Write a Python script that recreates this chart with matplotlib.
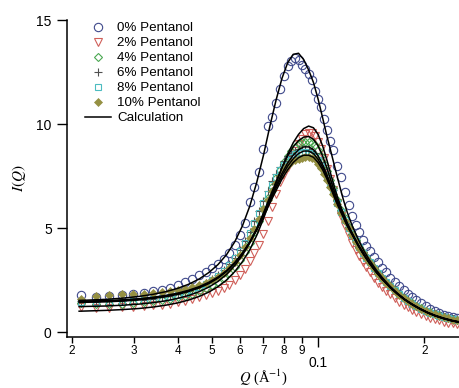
import numpy as np
import matplotlib
matplotlib.use('Agg')
import matplotlib.pyplot as plt
from matplotlib.lines import Line2D

plt.rcParams['font.family'] = ['Liberation Sans', 'DejaVu Sans']
plt.rcParams['mathtext.fontset'] = 'stix'

# --- measured points (shared Q grid) ---
q_data = [0.0212, 0.0234, 0.0255, 0.0277, 0.0298, 0.032, 0.034, 0.036, 0.038, 0.040,
          0.042, 0.044, 0.046, 0.048, 0.050, 0.052, 0.054, 0.056, 0.058, 0.060,
          0.062, 0.064, 0.066, 0.068, 0.070, 0.072, 0.074, 0.076, 0.078, 0.080,
          0.082, 0.084, 0.086, 0.088, 0.090, 0.092, 0.094, 0.096, 0.098, 0.100,
          0.102, 0.104, 0.106, 0.108, 0.110, 0.113, 0.116, 0.119, 0.122, 0.125,
          0.128, 0.131, 0.134, 0.137, 0.140, 0.144, 0.148, 0.152, 0.156, 0.160,
          0.165, 0.170, 0.175, 0.180, 0.185, 0.190, 0.196, 0.202, 0.208, 0.214,
          0.220, 0.227, 0.234, 0.241, 0.248]

i_p0 = [1.78, 1.70, 1.72, 1.76, 1.82, 1.88, 1.95, 2.03, 2.12, 2.25,
        2.40, 2.57, 2.74, 2.90, 3.08, 3.28, 3.50, 3.80, 4.20, 4.65,
        5.25, 6.25, 6.95, 7.70, 8.80, 9.90, 10.35, 11.0, 11.7, 12.3,
        12.8, 13.05, 13.15, 13.1, 12.85, 12.65, 12.4, 12.1, 11.6, 11.2,
        10.8, 10.25, 9.7, 9.2, 8.75, 8.0, 7.45, 6.75, 6.1, 5.6,
        5.15, 4.8, 4.4, 4.15, 3.9, 3.6, 3.35, 3.1, 2.88, 2.62,
        2.40, 2.2, 2.0, 1.83, 1.67, 1.52, 1.38, 1.24, 1.12, 1.01,
        0.92, 0.83, 0.76, 0.71, 0.68]
i_p2 = [1.18, 1.15, 1.17, 1.20, 1.22, 1.25, 1.28, 1.32, 1.37, 1.43,
        1.50, 1.58, 1.67, 1.76, 1.86, 1.98, 2.12, 2.28, 2.50, 2.74,
        3.05, 3.4, 3.78, 4.2, 4.7, 5.35, 6.0, 6.65, 7.2, 7.6,
        7.95, 8.3, 8.7, 9.05, 9.3, 9.5, 9.57, 9.55, 9.4, 9.15,
        8.8, 8.35, 7.85, 7.35, 6.85, 6.2, 5.6, 5.1, 4.65, 4.3,
        3.95, 3.65, 3.38, 3.13, 2.9, 2.62, 2.38, 2.17, 1.98, 1.81,
        1.62, 1.46, 1.31, 1.18, 1.06, 0.96, 0.86, 0.77, 0.69, 0.62,
        0.56, 0.50, 0.45, 0.41, 0.38]
i_p4 = [1.38, 1.33, 1.34, 1.36, 1.39, 1.43, 1.47, 1.52, 1.58, 1.66,
        1.75, 1.85, 1.97, 2.10, 2.25, 2.42, 2.62, 2.85, 3.12, 3.45,
        3.85, 4.3, 4.8, 5.35, 5.9, 6.45, 6.95, 7.4, 7.8, 8.15,
        8.45, 8.7, 8.9, 9.05, 9.12, 9.15, 9.12, 9.08, 9.0, 8.75,
        8.45, 8.1, 7.72, 7.3, 6.9, 6.35, 5.88, 5.46, 5.06, 4.72,
        4.4, 4.1, 3.84, 3.59, 3.36, 3.09, 2.83, 2.61, 2.41, 2.21,
        2.01, 1.82, 1.65, 1.51, 1.38, 1.27, 1.14, 1.03, 0.94, 0.86,
        0.8, 0.73, 0.67, 0.62, 0.58]
i_p6 = [1.5, 1.46, 1.47, 1.49, 1.52, 1.56, 1.61, 1.67, 1.74, 1.83,
        1.93, 2.05, 2.19, 2.35, 2.53, 2.74, 2.98, 3.26, 3.58, 3.95,
        4.37, 4.83, 5.32, 5.82, 6.32, 6.8, 7.24, 7.62, 7.95, 8.22,
        8.44, 8.6, 8.72, 8.8, 8.82, 8.82, 8.78, 8.7, 8.6, 8.4,
        8.15, 7.86, 7.53, 7.18, 6.82, 6.3, 5.84, 5.43, 5.04, 4.7,
        4.38, 4.09, 3.83, 3.58, 3.35, 3.08, 2.82, 2.6, 2.4, 2.2,
        2.0, 1.81, 1.64, 1.5, 1.37, 1.26, 1.13, 1.02, 0.93, 0.85,
        0.79, 0.72, 0.66, 0.61, 0.57]
i_p8 = [1.45, 1.42, 1.43, 1.45, 1.48, 1.52, 1.57, 1.63, 1.70, 1.79,
        1.89, 2.01, 2.15, 2.31, 2.49, 2.70, 2.94, 3.22, 3.54, 3.9,
        4.3, 4.75, 5.22, 5.7, 6.18, 6.65, 7.08, 7.45, 7.78, 8.05,
        8.27, 8.43, 8.55, 8.62, 8.65, 8.63, 8.6, 8.52, 8.42, 8.25,
        8.0, 7.72, 7.4, 7.06, 6.72, 6.22, 5.78, 5.38, 5.0, 4.68,
        4.37, 4.08, 3.82, 3.58, 3.35, 3.08, 2.82, 2.6, 2.4, 2.2,
        2.0, 1.81, 1.64, 1.5, 1.37, 1.26, 1.13, 1.02, 0.93, 0.85,
        0.79, 0.72, 0.66, 0.61, 0.57]
i_p10 = [1.6, 1.72, 1.8, 1.82, 1.83, 1.84, 1.86, 1.9, 1.95, 2.0,
         2.07, 2.15, 2.25, 2.37, 2.5, 2.66, 2.85, 3.08, 3.36, 3.7,
         4.08, 4.5, 4.95, 5.42, 5.9, 6.36, 6.8, 7.18, 7.52, 7.8,
         8.02, 8.18, 8.28, 8.34, 8.37, 8.4, 8.4, 8.36, 8.3, 8.1,
         7.88, 7.6, 7.3, 6.98, 6.64, 6.16, 5.74, 5.35, 4.98, 4.66,
         4.35, 4.06, 3.8, 3.56, 3.33, 3.06, 2.8, 2.58, 2.38, 2.19,
         1.99, 1.8, 1.63, 1.5, 1.37, 1.26, 1.13, 1.02, 0.93, 0.85,
         0.79, 0.71, 0.65, 0.6, 0.56]

# --- calculated curves ---
q_calc = [0.021, 0.022, 0.025, 0.028, 0.031, 0.034, 0.037, 0.040, 0.043, 0.046,
          0.049, 0.052, 0.055, 0.058, 0.061, 0.064, 0.067, 0.070, 0.073, 0.076,
          0.079, 0.082, 0.085, 0.088, 0.091, 0.094, 0.097, 0.100, 0.103, 0.106,
          0.109, 0.112, 0.115, 0.118, 0.121, 0.125, 0.130, 0.135, 0.140, 0.146,
          0.152, 0.160, 0.168, 0.176, 0.185, 0.195, 0.205, 0.215, 0.227, 0.240,
          0.250]
c_p0 = [1.52, 1.53, 1.57, 1.63, 1.71, 1.81, 1.94, 2.10, 2.30, 2.55,
        2.86, 3.24, 3.72, 4.33, 5.10, 6.05, 7.2, 8.5, 9.9, 11.15,
        12.2, 12.95, 13.35, 13.4, 13.1, 12.6, 12.0, 11.2, 10.3, 9.4,
        8.6, 7.8, 7.05, 6.35, 5.75, 5.1, 4.45, 3.9, 3.45, 3.0,
        2.62, 2.2, 1.86, 1.58, 1.34, 1.12, 0.94, 0.80, 0.67, 0.56,
        0.50]
c_p2 = [1.00, 1.01, 1.04, 1.08, 1.13, 1.20, 1.29, 1.40, 1.54, 1.71,
        1.92, 2.18, 2.5, 2.9, 3.38, 3.95, 4.65, 5.45, 6.3, 7.15,
        7.9, 8.55, 9.1, 9.5, 9.78, 9.9, 9.82, 9.5, 8.95, 8.25,
        7.5, 6.8, 6.2, 5.7, 5.25, 4.75, 4.2, 3.75, 3.32, 2.9,
        2.55, 2.15, 1.83, 1.56, 1.32, 1.10, 0.92, 0.78, 0.65, 0.54,
        0.48]
c_p4 = [1.22, 1.23, 1.25, 1.29, 1.34, 1.41, 1.50, 1.62, 1.76, 1.94,
        2.16, 2.43, 2.77, 3.19, 3.69, 4.28, 4.96, 5.72, 6.5, 7.23,
        7.9, 8.47, 8.9, 9.2, 9.37, 9.4, 9.27, 8.95, 8.47, 7.87,
        7.22, 6.6, 6.05, 5.6, 5.17, 4.72, 4.18, 3.72, 3.3, 2.9,
        2.55, 2.15, 1.83, 1.56, 1.32, 1.10, 0.92, 0.78, 0.65, 0.54,
        0.48]
c_p6 = [1.42, 1.43, 1.45, 1.49, 1.54, 1.61, 1.70, 1.81, 1.95, 2.12,
        2.33, 2.59, 2.91, 3.3, 3.77, 4.33, 4.97, 5.67, 6.38, 7.03,
        7.63, 8.13, 8.5, 8.76, 8.9, 8.9, 8.77, 8.47, 8.05, 7.55,
        7.0, 6.47, 5.99, 5.56, 5.14, 4.7, 4.16, 3.7, 3.3, 2.9,
        2.55, 2.15, 1.83, 1.56, 1.32, 1.10, 0.92, 0.78, 0.65, 0.54,
        0.48]
c_p8 = [1.45, 1.46, 1.48, 1.52, 1.57, 1.64, 1.73, 1.84, 1.98, 2.15,
        2.36, 2.62, 2.93, 3.32, 3.78, 4.32, 4.94, 5.62, 6.3, 6.92,
        7.5, 7.98, 8.33, 8.58, 8.7, 8.7, 8.58, 8.3, 7.92, 7.45,
        6.93, 6.42, 5.95, 5.53, 5.12, 4.68, 4.15, 3.7, 3.3, 2.9,
        2.55, 2.15, 1.83, 1.56, 1.32, 1.10, 0.92, 0.78, 0.65, 0.54,
        0.48]
c_p10 = [1.48, 1.49, 1.51, 1.55, 1.60, 1.67, 1.76, 1.87, 2.01, 2.18,
         2.39, 2.64, 2.95, 3.33, 3.78, 4.3, 4.9, 5.55, 6.2, 6.8,
         7.35, 7.8, 8.15, 8.38, 8.5, 8.5, 8.4, 8.15, 7.8, 7.35,
         6.85, 6.35, 5.9, 5.5, 5.1, 4.68, 4.15, 3.7, 3.3, 2.9,
         2.55, 2.15, 1.83, 1.56, 1.32, 1.10, 0.92, 0.78, 0.65, 0.54,
         0.48]

labels = ['0% Pentanol', '2% Pentanol', '4% Pentanol', '6% Pentanol',
          '8% Pentanol', '10% Pentanol']
series = [i_p0, i_p2, i_p4, i_p6, i_p8, i_p10]
calcs = [c_p0, c_p2, c_p4, c_p6, c_p8, c_p10]

# marker styles per sample
styles = [
    dict(marker='o', ms=6, mfc='none', mec='#404a8c', mew=0.8),
    dict(marker='v', ms=6, mfc='none', mec='#d0605a', mew=0.8),
    dict(marker='D', ms=4.5, mfc='none', mec='#4aa851', mew=0.8),
    dict(marker='+', ms=6, mfc='none', mec='#505050', mew=0.8),
    dict(marker='s', ms=4, mfc='none', mec='#4cbcc0', mew=0.8),
    dict(marker='D', ms=4.5, mfc='#959043', mec='#959043', mew=0.5),
]

fig = plt.figure(figsize=(4.59, 3.88), dpi=100)
ax = fig.add_axes([67/459, 51/388, 392/459, 317/388])

handles = []
for vals, lab, st in zip(series, labels, styles):
    h, = ax.plot(q_data, vals, ls='none', label=lab, **st)
    handles.append(h)

for c in calcs:
    ax.plot(q_calc, c, color='black', lw=1.1)
handles.append(Line2D([], [], color='black', lw=1.1, label='Calculation'))

ax.set_xscale('log')
ax.set_xlim(0.0194, 0.251)
ax.set_ylim(-0.24, 15)

ax.set_xticks([0.1], labels=['0.1'])
ax.set_xticks([0.02, 0.03, 0.04, 0.05, 0.06, 0.07, 0.08, 0.09, 0.2],
              labels=['2', '3', '4', '5', '6', '7', '8', '9', '2'], minor=True)
ax.set_yticks([0, 5, 10, 15])
ax.tick_params(axis='x', which='major', length=7, width=1, labelsize=10, pad=7)
ax.tick_params(axis='x', which='minor', length=4, width=1, labelsize=8.5, pad=2)
ax.tick_params(axis='y', length=7, width=1, labelsize=10, pad=4)

for s in ['top', 'right']:
    ax.spines[s].set_visible(False)
for s in ['left', 'bottom']:
    ax.spines[s].set_linewidth(1.1)

ax.set_xlabel(r'$Q$ (Å$^{-1}$)', fontfamily='Liberation Serif', fontsize=10.5, labelpad=-2)
ax.set_ylabel(r'$I(Q)$', fontsize=11, labelpad=6)

ax.legend(handles=handles, loc='upper left', bbox_to_anchor=(0.033, 1.01),
          frameon=False, fontsize=9.6, handlelength=1.9, handletextpad=0.5,
          labelspacing=0.2, borderaxespad=0)

fig.savefig('out.png', dpi=100)
